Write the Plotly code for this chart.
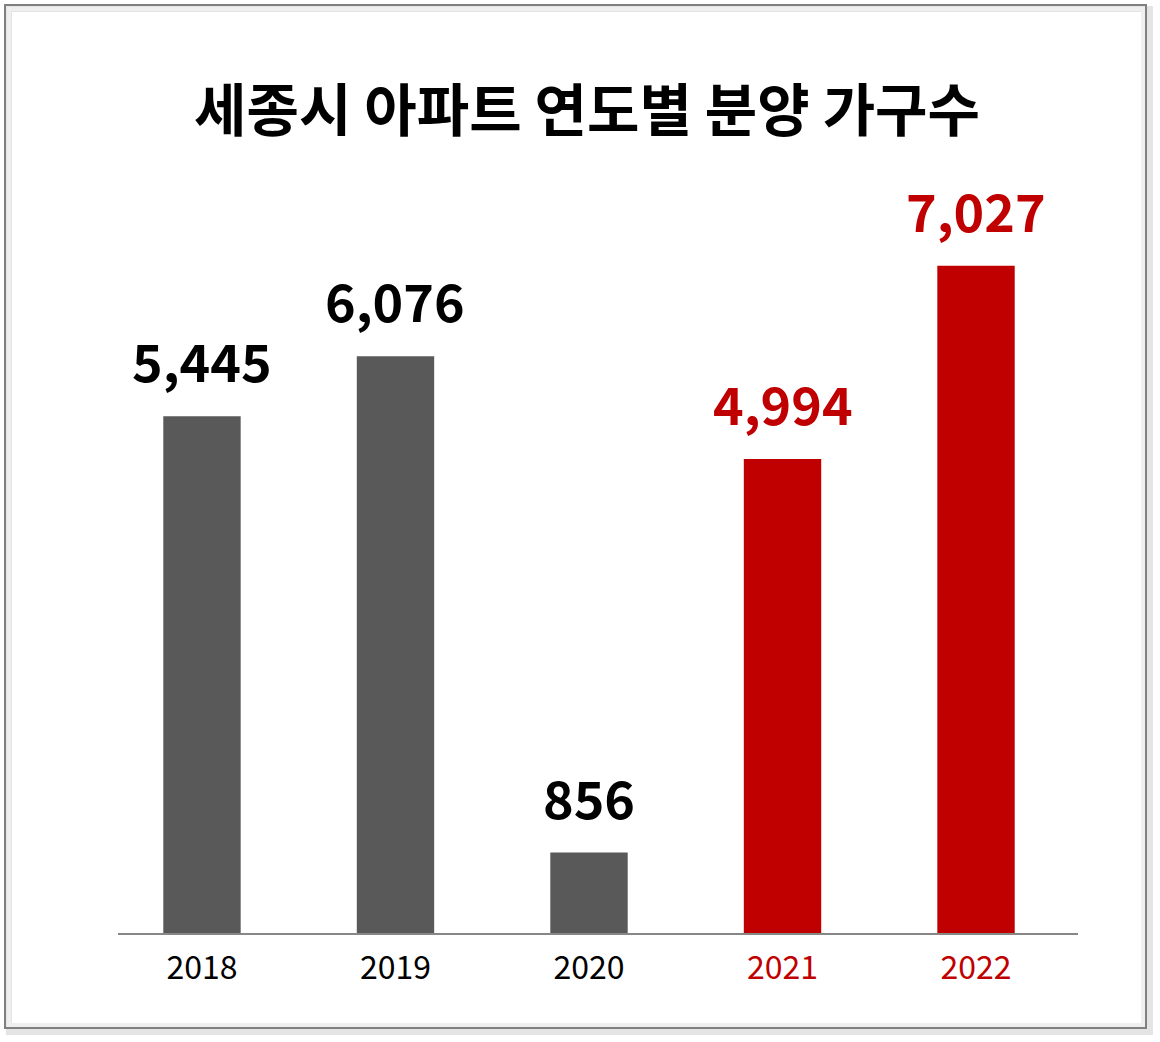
import plotly.graph_objects as go

years = ["2018", "2019", "2020", "2021", "2022"]
values = [5445, 6076, 856, 4994, 7027]
value_labels = ["5,445", "6,076", "856", "4,994", "7,027"]
bar_colors = ["#595959", "#595959", "#595959", "#C00000", "#C00000"]
text_colors = ["#000000", "#000000", "#000000", "#C00000", "#C00000"]
title_text = "세종시 아파트 연도별 분양 가구수"

W, H = 1160, 1042
L, R = 118, 1160 - 1078
T, B = 160, 1042 - 934
pw, ph = W - L - R, H - T - B

def px_x(p):
    return (p - L) / pw

def px_y(p):
    return (H - B - p) / ph

fig = go.Figure()
fig.add_trace(go.Bar(
    x=list(range(len(years))), y=values,
    marker=dict(color=bar_colors, line=dict(width=0)),
    width=0.4, hoverinfo="skip",
))

for i, (v, lab, c) in enumerate(zip(values, value_labels, text_colors)):
    fig.add_annotation(x=i, y=v, text=lab, showarrow=False, yanchor="bottom",
                       yshift=17, font=dict(family="Noto Sans CJK KR", size=52, color=c, weight="bold"))

ticktext = [f"<span style='color:{c}'>{y}</span>" for y, c in zip(years, ["#000000"]*3 + ["#C00000"]*2)]

shapes = [
    # outer soft shadow (right / bottom)
    dict(type="rect", xref="paper", yref="paper",
         x0=px_x(9), x1=px_x(1150), y0=px_y(9), y1=px_y(1032),
         line=dict(color="#e4e4e4", width=6), layer="below"),
    # inner soft shadow
    dict(type="rect", xref="paper", yref="paper",
         x0=px_x(9), x1=px_x(1143), y0=px_y(9), y1=px_y(1025),
         line=dict(color="#efefef", width=4), layer="below"),
    # border
    dict(type="rect", xref="paper", yref="paper",
         x0=px_x(5), x1=px_x(1146), y0=px_y(5), y1=px_y(1028),
         line=dict(color="#808080", width=2), layer="above"),
    # baseline
    dict(type="line", xref="paper", yref="paper",
         x0=0, x1=1, y0=0, y1=0, line=dict(color="#878787", width=2)),
]

fig.update_layout(
    width=W, height=H,
    margin=dict(l=L, r=R, t=T, b=B, pad=0),
    paper_bgcolor="white", plot_bgcolor="white",
    showlegend=False,
    title=dict(text=title_text, x=587 / W, xanchor="center", y=1 - 111 / H, yanchor="middle",
               font=dict(family="Noto Sans CJK KR", size=57, color="#000000", weight="bold")),
    xaxis=dict(range=[-0.434, 4.527], tickmode="array", tickvals=list(range(len(years))),
               ticktext=ticktext, showgrid=False, zeroline=False, showline=False, ticks="",
               tickfont=dict(family="Noto Sans CJK KR", size=32, color="#000000"), ticklabelstandoff=12),
    yaxis=dict(range=[0, ph / 0.09509], visible=False, showgrid=False, zeroline=False),
    shapes=shapes,
)

fig.write_html("out.html", config={"displayModeBar": False},
               post_script="document.body.style.margin='0';document.body.style.overflow='hidden';")
